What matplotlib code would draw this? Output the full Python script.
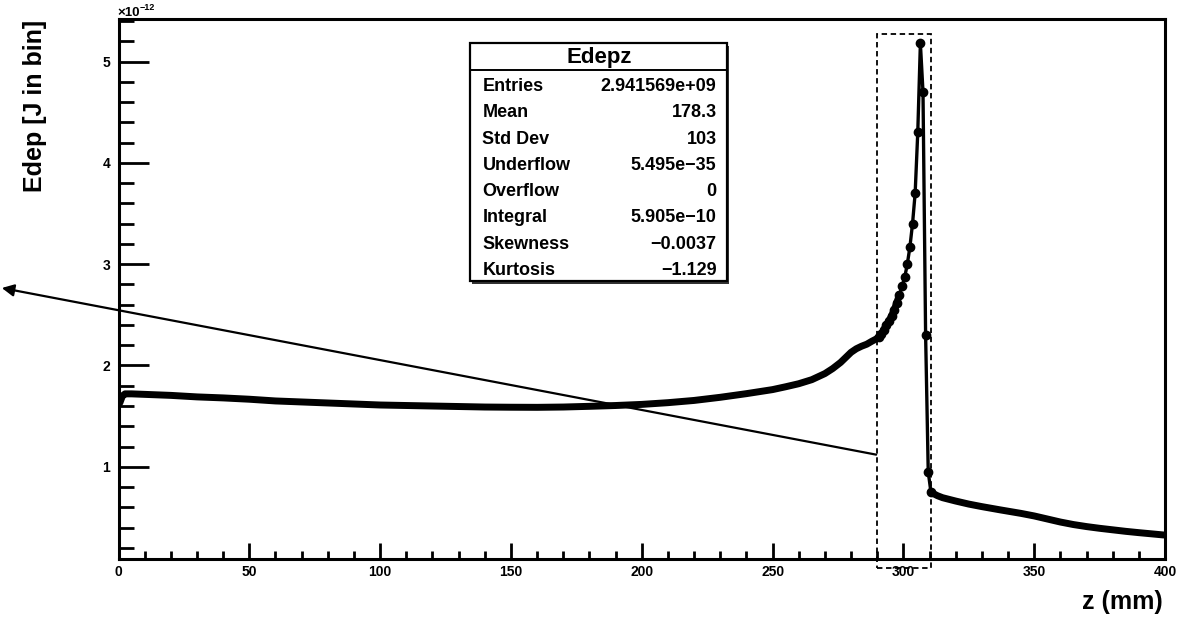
import matplotlib
matplotlib.use("Agg")
import matplotlib.pyplot as plt
from matplotlib.patches import Rectangle
from matplotlib.lines import Line2D
from matplotlib.ticker import MultipleLocator

# ---------------- data (Edep in units of 1e-12 J per bin) ----------------
z_left = [0.5, 1.5, 2.5, 5, 10, 20, 30, 40, 50, 60, 70, 80, 90, 100, 110, 120,
          130, 140, 150, 160, 170, 180, 190, 200, 210, 220, 230, 240, 250, 255,
          260, 265, 270, 273, 276, 278, 280, 282, 284, 286, 288, 289.5, 290.5]
e_left = [1.63, 1.70, 1.72, 1.72, 1.715, 1.705, 1.69, 1.68, 1.667, 1.65, 1.64,
          1.63, 1.62, 1.61, 1.605, 1.60, 1.595, 1.59, 1.588, 1.587, 1.59, 1.597,
          1.605, 1.616, 1.633, 1.655, 1.686, 1.722, 1.762, 1.79, 1.82, 1.86,
          1.92, 1.97, 2.03, 2.08, 2.13, 2.165, 2.19, 2.21, 2.24, 2.26, 2.28]

z_peak = [290.5, 291.5, 292.5, 293.5, 294.5, 295.5, 296.5, 297.5, 298.5, 299.5,
          300.5, 301.5, 302.5, 303.5, 304.5, 305.5, 306.5, 307.5, 308.5, 309.5,
          310.5]
e_peak = [2.28, 2.31, 2.35, 2.40, 2.44, 2.49, 2.55, 2.62, 2.70, 2.78, 2.87,
          3.00, 3.17, 3.40, 3.70, 4.30, 5.18, 4.70, 2.30, 0.95, 0.756]

z_right = [310.5, 311.5, 313, 315, 320, 325, 330, 337, 345, 350, 355, 360, 365,
           370, 375, 380, 385, 390, 395, 399.5]
e_right = [0.756, 0.735, 0.715, 0.695, 0.662, 0.632, 0.607, 0.575, 0.54, 0.515,
           0.485, 0.455, 0.43, 0.41, 0.393, 0.378, 0.363, 0.35, 0.338, 0.327]

stat_title = "Edepz"
stat_names = ["Entries", "Mean", "Std Dev", "Underflow", "Overflow",
              "Integral", "Skewness", "Kurtosis"]
stat_values = ["2.941569e+09", "178.3", "103", "5.495e\u221235", "0",
               "5.905e\u221210", "\u22120.0037", "\u22121.129"]

x_ticks = [0, 50, 100, 150, 200, 250, 300, 350, 400]
y_ticks = [1, 2, 3, 4, 5]

# ---------------- figure ----------------
W, H = 1178, 620
plt.rcParams['font.family'] = ['Liberation Sans', 'DejaVu Sans']
fig = plt.figure(figsize=(W / 100, H / 100), dpi=100)


def fx(x):
    return x / W


def fy(y):
    return 1 - y / H


ax = fig.add_axes([fx(118.5), fy(559), fx(1165) - fx(118.5), fy(19) - fy(559)])
ax.set_xlim(0, 400)
ax.set_ylim(0.09, 5.42)

ax.plot(z_left, e_left, color='k', lw=5, solid_capstyle='round',
        solid_joinstyle='round')
ax.plot(z_right, e_right, color='k', lw=5, solid_capstyle='round',
        solid_joinstyle='round')
# dense lower part of the rise looks like a thick band (overlapping markers)
ax.plot(z_peak[:9], e_peak[:9], color='k', lw=5, solid_capstyle='round',
        solid_joinstyle='round')
ax.plot(z_peak, e_peak, color='k', lw=2.4, marker='o', ms=6,
        solid_joinstyle='round')

# axes styling
for s in ax.spines.values():
    s.set_linewidth(2.2)
ax.set_xticks(x_ticks)
ax.set_xticklabels([str(t) for t in x_ticks])
ax.set_yticks(y_ticks)
ax.set_yticklabels([str(t) for t in y_ticks])
ax.xaxis.set_minor_locator(MultipleLocator(10))
ax.yaxis.set_minor_locator(MultipleLocator(0.2))
ax.tick_params(axis='x', which='major', direction='in', length=11.5, width=2,
               pad=4, labelsize=10)
ax.tick_params(axis='x', which='minor', direction='in', length=5.8, width=2)
ax.tick_params(axis='y', which='major', direction='in', length=21.5, width=2,
               pad=6, labelsize=10)
ax.tick_params(axis='y', which='minor', direction='in', length=10.8, width=2)
for lab in ax.get_xticklabels() + ax.get_yticklabels():
    lab.set_fontweight('bold')

# exponent label
fig.text(fx(117), fy(13), "\u00d710", fontsize=9.5, ha='left', va='center',
         fontweight='bold')
fig.text(fx(140), fy(8), "\u221212", fontsize=6.5, ha='left', va='center',
         fontweight='bold')

# axis titles
fig.text(fx(35), fy(20), "Edep [J in bin]", rotation=90, ha='center', va='top',
         fontsize=18, fontweight='bold')
fig.text(fx(1163), fy(602), "z (mm)", ha='right', va='center', fontsize=18,
         fontweight='bold')

# stats box
shadow = Rectangle((fx(472), fy(284)), fx(727) - fx(470), fy(43) - fy(281),
                   transform=fig.transFigure, facecolor='#333333',
                   edgecolor='none', zorder=5)
box = Rectangle((fx(470), fy(281)), fx(727) - fx(470), fy(43) - fy(281),
                transform=fig.transFigure, facecolor='white', edgecolor='k',
                lw=1.6, zorder=6)
fig.add_artist(shadow)
fig.add_artist(box)
fig.add_artist(Line2D([fx(470), fx(727)], [fy(69.5), fy(69.5)],
                      transform=fig.transFigure, color='k', lw=1.4, zorder=7))
fig.text(fx(599), fy(63.5), stat_title, ha='center', va='baseline',
         fontsize=16, fontweight='bold', zorder=8)
for i, (n, v) in enumerate(zip(stat_names, stat_values)):
    yb = 91 + i * 26.3
    fig.text(fx(482.5), fy(yb), n, ha='left', va='baseline', fontsize=13,
             fontweight='bold', zorder=8)
    fig.text(fx(716.5), fy(yb), v, ha='right', va='baseline', fontsize=13,
             fontweight='bold', zorder=8)

# dashed highlight box around the Bragg peak
ax.add_patch(Rectangle((289.8, 0.0), 310.4 - 289.8, 5.27, fill=False,
                       edgecolor='k', lw=1.3, linestyle=(0, (3, 2)),
                       clip_on=False, zorder=4))

# arrow pointing out to the left
ax.annotate("", xy=(-44.6, 2.765), xytext=(289.6, 1.12),
            xycoords='data', textcoords='data', annotation_clip=False,
            arrowprops=dict(arrowstyle='-|>', color='k', lw=1.6,
                            mutation_scale=18, shrinkA=0, shrinkB=0))

fig.savefig("out.png", dpi=100)
